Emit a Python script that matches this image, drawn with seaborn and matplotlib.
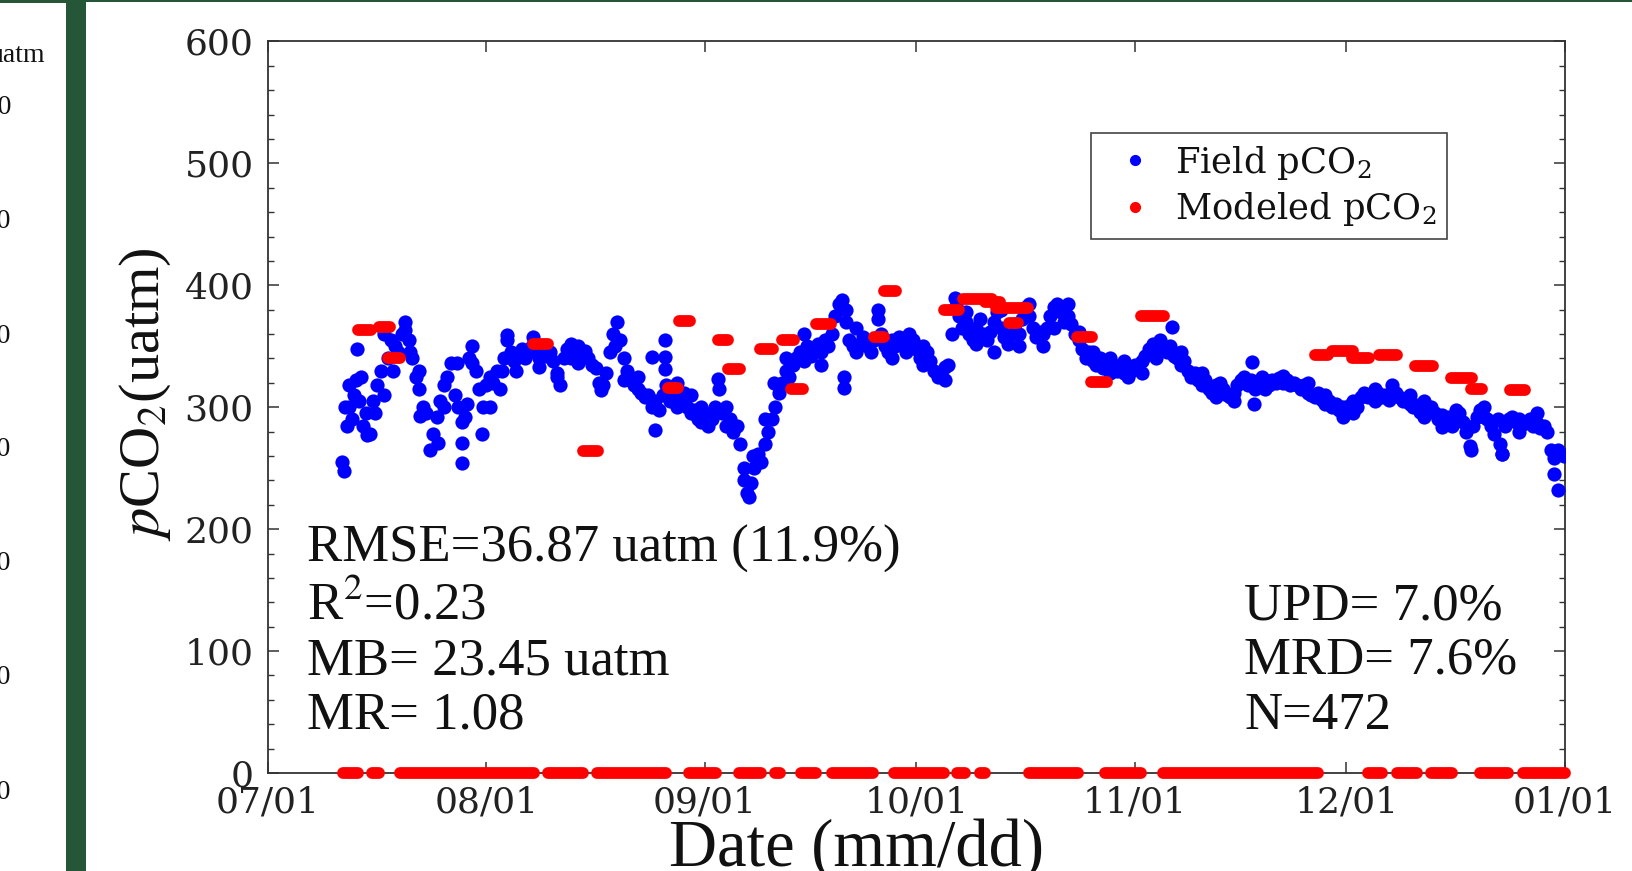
import matplotlib
matplotlib.use("Agg")
import matplotlib.pyplot as plt
import matplotlib.dates as mdates
from matplotlib.lines import Line2D
from matplotlib.patches import Rectangle
from matplotlib.ticker import MultipleLocator
import numpy as np
import pandas as pd
import seaborn as sns

W, H = 1632, 871
START = pd.Timestamp("2018-07-01")
END = pd.Timestamp("2019-01-01")

# field pCO2 (uatm), one reading every half day starting 10.5 days after 07/01
FIELD_T0 = 10.5
field_pco2 = [
    255, 300, 318, 290, 322, 305, 285, 295, 278, 305,
    318, 330, 310, 340, 355, 350, 345, 360, 370, 355,
    340, 325, 315, 300, 295, 265, 278, 292, 305, 318,
    325, 336, 310, 300, 288, 292, 340, 350, 330, 315,
    300, 318, 325, 320, 330, 315, 340, 355, 345, 338,
    342, 348, 340, 345, 350, 345, 340, 348, 342, 345,
    338, 325, 318, 340, 348, 340, 345, 350, 342, 346,
    340, 335, 332, 320, 318, 328, 345, 360, 370, 355,
    340, 330, 322, 318, 315, 312, 308, 310, 300, 305,
    298, 310, 318, 305, 310, 300, 305, 312, 300, 295,
    298, 290, 288, 295, 285, 290, 300, 315, 295, 285,
    290, 280, 285, 270, 240, 230, 238, 250, 262, 255,
    270, 280, 290, 300, 312, 320, 330, 325, 335, 340,
    345, 338, 350, 342, 348, 352, 345, 355, 350, 360,
    375, 385, 388, 370, 355, 350, 345, 352, 358, 350,
    345, 355, 380, 360, 350, 345, 355, 350, 358, 352,
    345, 350, 355, 348, 340, 350, 345, 338, 330, 325,
    328, 322, 335, 360, 390, 375, 365, 370, 360, 355,
    365, 372, 360, 355, 362, 370, 378, 365, 358, 352,
    360, 368, 360, 372, 382, 375, 365, 358, 362, 360,
    365, 375, 382, 385, 378, 370, 375, 368, 360, 355,
    348, 340, 345, 338, 335, 340, 332, 336, 340, 335,
    330, 333, 328, 325, 330, 335, 332, 338, 342, 348,
    352, 350, 355, 348, 345, 350, 342, 340, 335, 338,
    330, 325, 328, 322, 318, 322, 315, 312, 318, 320,
    315, 310, 308, 312, 318, 322, 325, 318, 322, 315,
    320, 325, 322, 318, 322, 320, 324, 320, 322, 318,
    320, 318, 315, 318, 312, 310, 308, 312, 306, 303,
    305, 300, 303, 298, 300, 296, 302, 305, 300, 308,
    312, 308, 310, 315, 312, 308, 310, 306, 310, 312,
    308, 305, 307, 303, 300, 302, 296, 292, 298, 300,
    295, 290, 294, 288, 292, 285, 290, 295, 288, 280,
    268, 285, 292, 298, 300, 290, 285, 278, 290, 262,
    285, 290, 292, 288, 290, 286, 288, 290, 285, 287,
    283, 285, 280, 265, 245, 232, 262,
]

# scattered field readings off the main band (day after 07/01, uatm)
extra_day = [
    10.8, 11.2, 11.6, 12.3, 12.7, 13.2, 14.1, 15.2, 16.5, 17.8,
    19.5, 20.2, 21.5, 21.6, 24.2, 25.0, 26.8, 27.6, 27.6, 28.3,
    29.0, 30.4, 31.5, 33.2, 33.9, 35.2, 37.6, 38.5, 41.0, 43.0,
    44.0, 47.3, 49.3, 50.5, 52.5, 54.5, 55.0, 56.4, 56.4, 56.4,
    58.0, 60.0, 61.5, 63.9, 65.0, 67.6, 68.2, 68.8, 70.5, 71.8,
    73.5, 76.0, 78.5, 81.7, 81.7, 82.0, 83.5, 86.6, 88.5, 91.0,
    93.0, 96.0, 97.6, 99.0, 100.5, 103.0, 104.0, 106.5, 108.0, 110.0,
    111.5, 113.5, 115.0, 117.0, 119.5, 121.5, 124.0, 126.0, 128.3, 129.5,
    132.5, 134.5, 137.0, 139.6, 139.9, 141.5, 144.0, 147.5, 150.0, 152.5,
    154.0, 157.0, 159.5, 162.0, 164.0, 166.5, 168.5, 170.7, 172.5, 174.8,
    175.1, 177.5, 180.0, 182.5, 183.0, 183.8,
]
extra_pco2 = [
    248, 285, 300, 310, 348, 325, 277, 295, 360, 330,
    363, 345, 330, 293, 271, 300, 336, 271, 254, 303,
    336, 278, 300, 330, 359, 330, 358, 333, 328, 352,
    336, 314, 350, 322, 325, 341, 281, 355, 341, 331,
    320, 310, 300, 323, 300, 250, 226, 260, 290, 320,
    340, 360, 335, 316, 325, 380, 365, 372, 340, 360,
    335, 333, 383, 378, 352, 345, 380, 350, 385, 350,
    365, 385, 362, 345, 328, 338, 328, 340, 366, 345,
    328, 308, 305, 337, 303, 315, 326, 320, 310, 292,
    295, 305, 318, 310, 305, 284, 298, 265, 292, 270,
    262, 280, 295, 258, 265, 260,
]

# modeled pCO2: runs of one value (start day, end day, uatm)
model_start = [12.8, 15.8, 17.1, 37.6, 44.7, 56.8, 58.4, 63.9, 65.3, 69.8,
               72.9, 74.2, 77.8, 86.0, 87.4, 95.9, 98.6, 101.7, 103.3, 105.1,
               114.8, 116.8, 123.9, 148.5, 150.9, 153.8, 157.6, 162.7, 167.8, 170.7,
               176.2]
model_end = [14.7, 17.3, 18.8, 39.8, 46.9, 58.2, 59.9, 65.3, 67.0, 71.7,
             74.6, 75.9, 79.9, 87.4, 89.1, 98.0, 102.7, 103.9, 107.8, 106.4,
             116.9, 119.0, 127.1, 150.4, 153.9, 156.2, 160.2, 165.3, 170.8, 172.2,
             178.3]
model_pco2 = [363, 366, 340, 352, 264, 316, 371, 355, 331, 348,
              355, 315, 368, 358, 395, 380, 389, 386, 381, 369,
              358, 321, 375, 343, 346, 340, 343, 334, 324, 315,
              314]

# runs with no model value, plotted at 0
gap_start = [10.7, 14.8, 18.8, 39.8, 46.7, 59.8, 66.8, 72.0, 75.7, 80.0,
             88.8, 97.8, 101.0, 108.0, 118.8, 127.0, 156.0, 160.2, 165.0, 172.0,
             178.0]
gap_end = [12.8, 15.8, 37.8, 44.7, 56.5, 63.6, 69.9, 72.7, 77.8, 85.8,
           95.9, 98.9, 101.8, 114.9, 123.9, 149.0, 158.0, 163.0, 168.0, 175.9,
           184.0]

left_stats = ["RMSE=36.87 uatm (11.9%)", "R$^2$=0.23", "MB= 23.45 uatm", "MR= 1.08"]
right_stats = ["UPD= 7.0%", "MRD= 7.6%", "N=472"]
side_labels = ["700", "600", "500", "400", "300", "200", "100"]


def to_date(days):
    return START + pd.to_timedelta(np.asarray(days, dtype=float), unit="D")


def runs_frame(starts, ends, values):
    rows = []
    for i, (s, e, v) in enumerate(zip(starts, ends, values)):
        rows.append((i, s, v))
        rows.append((i, e, v))
    df = pd.DataFrame(rows, columns=["run", "day", "pco2"])
    df["date"] = to_date(df["day"])
    return df


field_day = FIELD_T0 + 0.5 * np.arange(len(field_pco2))
field = pd.DataFrame({
    "date": to_date(np.concatenate([field_day, extra_day])),
    "pco2": np.concatenate([field_pco2, extra_pco2]),
})
model = runs_frame(model_start, model_end, model_pco2)
gaps = runs_frame(gap_start, gap_end, [0] * len(gap_start))

sns.set_style("ticks")
plt.rcParams["font.family"] = ["Liberation Serif", "DejaVu Serif"]
plt.rcParams["mathtext.fontset"] = "stix"

GREEN = "#245637"
INK = "#333333"
fig = plt.figure(figsize=(W / 100, H / 100), dpi=100, facecolor=GREEN)
fig.add_artist(Rectangle((0, 0), 66 / W, 1 - 3 / H, transform=fig.transFigure,
                         facecolor="white", edgecolor="none", zorder=-2))
fig.add_artist(Rectangle((86 / W, 0), 1 - 86 / W, 1 - 2 / H, transform=fig.transFigure,
                         facecolor="white", edgecolor="none", zorder=-2))

# cut-off labels of the neighbouring panel
fig.text(45 / W, 1 - 55 / H, "uatm", ha="right", va="center", fontsize=20, color="#111")
for i, lab in enumerate(side_labels):
    fig.text(11 / W, 1 - (108 + 114 * i) / H, lab, ha="right", va="center",
             fontsize=20, color="#111")

ax = fig.add_axes([267.7 / W, 1 - 773 / H, 1297.3 / W, 731.5 / H])
ax.set_facecolor("white")

sns.scatterplot(data=field, x="date", y="pco2", color="blue", s=105, linewidth=0,
                ax=ax, legend=False, zorder=3)
sns.lineplot(data=model, x="date", y="pco2", units="run", estimator=None, sort=False,
             color="red", lw=8.5, solid_capstyle="round", ax=ax, legend=False, zorder=4)
sns.lineplot(data=gaps, x="date", y="pco2", units="run", estimator=None, sort=False,
             color="red", lw=8.5, solid_capstyle="round", ax=ax, legend=False,
             zorder=5, clip_on=False)

ax.set_xlim(START, END)
ax.set_ylim(0, 600)
ax.xaxis.set_major_locator(mdates.MonthLocator())
ax.xaxis.set_major_formatter(mdates.DateFormatter("%m/%d"))
ax.yaxis.set_major_locator(MultipleLocator(100))
ax.yaxis.set_minor_locator(MultipleLocator(20))

for sp in ax.spines.values():
    sp.set_visible(True)
    sp.set_color(INK)
    sp.set_linewidth(1.3)
ax.tick_params(which="both", direction="in", top=True, right=True, color=INK)
ax.tick_params(which="major", length=8, width=1.1)
ax.tick_params(which="minor", length=4.5, width=1.0)
ax.tick_params(axis="y", pad=10)
ax.tick_params(axis="x", pad=9)
for t in ax.get_xticklabels() + ax.get_yticklabels():
    t.set_fontfamily("DejaVu Serif")
    t.set_fontsize(26)
    t.set_color("#222")

ax.set_xlabel("Date (mm/dd)", fontsize=48, va="center", color="#111")
ax.xaxis.set_label_coords(0.4535, -0.104)
ax.set_ylabel("$p$CO$_2$(uatm)", fontsize=42, va="center", color="#111")
ax.yaxis.set_label_coords(-0.094, 0.518)

for txt, yb in zip(left_stats, [0.2885, 0.2105, 0.134, 0.0602]):
    ax.text(0.0303, yb, txt, transform=ax.transAxes, fontsize=38, va="baseline",
            color="#111")
for txt, yb in zip(right_stats, [0.2105, 0.1367, 0.0602]):
    ax.text(0.7526, yb, txt, transform=ax.transAxes, fontsize=38, va="baseline",
            color="#111")

handles = [
    Line2D([], [], marker="o", ls="", color="blue", markersize=7),
    Line2D([], [], marker="o", ls="", color="red", markersize=7),
]
leg = ax.legend(handles, ["Field pCO$_2$", "Modeled pCO$_2$"], loc="upper left",
                bbox_to_anchor=(0.6346, 0.8749), borderaxespad=0, frameon=True,
                fancybox=False, edgecolor="#444", framealpha=1,
                prop={"family": "DejaVu Serif", "size": 25.5},
                handlelength=1.88, handletextpad=0.2, borderpad=0.3, labelspacing=0.25)
leg.get_frame().set_linewidth(1.2)
for t in leg.get_texts():
    t.set_math_fontfamily("dejavuserif")
    t.set_color("#111")

fig.savefig("out.png", dpi=100, facecolor=fig.get_facecolor())
